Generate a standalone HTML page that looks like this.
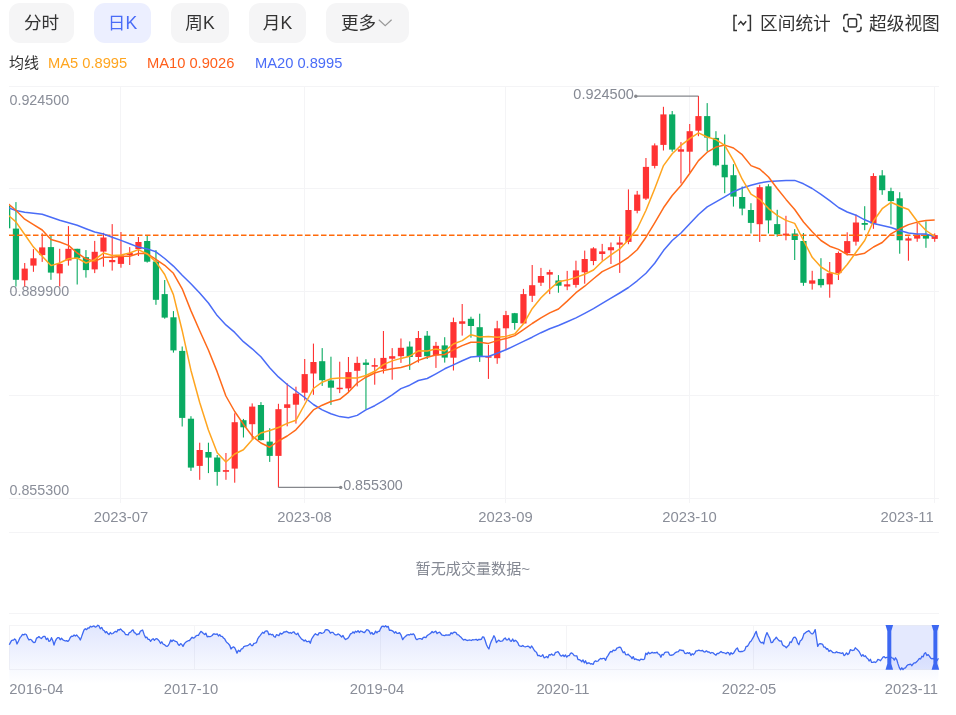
<!DOCTYPE html><html lang="zh"><head><meta charset="utf-8"><title>K线图</title>
<style>html,body{margin:0;padding:0;background:#fff}body{width:956px;height:715px;overflow:hidden;position:relative;font-family:"Liberation Sans","Noto Sans CJK SC",sans-serif}
svg{position:absolute;left:0;top:0;display:block}svg text{font-family:"Liberation Sans","Noto Sans CJK SC",sans-serif}
.tb{position:absolute;top:3px;height:40px;border-radius:11px;background:#f5f5f6;color:#333;font-size:17.6px;line-height:41.4px;text-align:center;box-sizing:border-box}
.tb.on{background:#ecefff;color:#4a6cf7}
.t{position:absolute;white-space:nowrap}
</style></head><body>
<div class="tb" style="left:9px;width:65px">分时</div>
<div class="tb on" style="left:94px;width:57px">日K</div>
<div class="tb" style="left:171px;width:58px">周K</div>
<div class="tb" style="left:249px;width:57px">月K</div>
<div class="tb" style="left:326px;width:83px;text-align:left;padding-left:15px">更多</div>
<div class="t" id="r1" style="left:760px;top:11.7px;font-size:17.7px;line-height:24px;color:#333">区间统计</div>
<div class="t" id="r2" style="left:869px;top:11.7px;font-size:17.7px;line-height:24px;color:#333">超级视图</div>
<div class="t" id="m0" style="left:9px;top:53px;font-size:15px;line-height:20px;color:#333">均线</div>
<div class="t" id="m1" style="left:48px;top:53px;font-size:14.7px;line-height:20px;color:#ffa51f">MA5 0.8995</div>
<div class="t" id="m2" style="left:147px;top:53px;font-size:14.7px;line-height:20px;color:#ff5e1a">MA10 0.9026</div>
<div class="t" id="m3" style="left:255px;top:53px;font-size:14.7px;line-height:20px;color:#4a6cf7">MA20 0.8995</div>
<div class="t" id="nv" style="left:415.6px;top:559px;font-size:15.1px;line-height:20px;color:#858993">暂无成交量数据~</div>
<svg width="956" height="715" viewBox="0 0 956 715">
<defs><clipPath id="cp"><rect x="9" y="80" width="931" height="420"/></clipPath>
<linearGradient id="mg" x1="0" y1="0" x2="0" y2="1"><stop offset="0" stop-color="#4a6cf7" stop-opacity="0.17"/><stop offset="1" stop-color="#4a6cf7" stop-opacity="0.0"/></linearGradient></defs>
<path d="M378.8 19.8 L385.2 25.6 L391.6 19.8" fill="none" stroke="#999" stroke-width="1.2"/>
<g fill="none" stroke="#333" stroke-width="1.5"><path d="M737 15.4 H734 V30.6 H737 M747.4 15.4 H750.4 V30.6 H747.4"/><path d="M738.3 24.6 L740.8 21.6 L743.3 24.8 L746.2 21.2" stroke-width="1.4"/></g>
<g fill="none" stroke="#333" stroke-width="1.5"><path d="M848.2 14.6 H846.4 Q843.8 14.6 843.8 17.2 V19.2 M856.6 14.6 H858.4 Q861 14.6 861 17.2 V19.2 M848.2 31.4 H846.4 Q843.8 31.4 843.8 28.8 V26.8 M856.6 31.4 H858.4 Q861 31.4 861 28.8 V26.8"/><rect x="848.2" y="18.7" width="8.4" height="8.4" rx="1.6"/></g>
<line x1="9" x2="939" y1="86.5" y2="86.5" stroke="#f4f4f6" stroke-width="1"/>
<line x1="9" x2="939" y1="188.5" y2="188.5" stroke="#f4f4f6" stroke-width="1"/>
<line x1="9" x2="939" y1="291.5" y2="291.5" stroke="#f4f4f6" stroke-width="1"/>
<line x1="9" x2="939" y1="395.5" y2="395.5" stroke="#f4f4f6" stroke-width="1"/>
<line x1="9" x2="939" y1="498.5" y2="498.5" stroke="#f4f4f6" stroke-width="1"/>
<line x1="120.5" x2="120.5" y1="86" y2="503" stroke="#f4f4f6" stroke-width="1"/>
<line x1="304.5" x2="304.5" y1="86" y2="503" stroke="#f4f4f6" stroke-width="1"/>
<line x1="505.5" x2="505.5" y1="86" y2="503" stroke="#f4f4f6" stroke-width="1"/>
<line x1="689.5" x2="689.5" y1="86" y2="503" stroke="#f4f4f6" stroke-width="1"/>
<line x1="934.5" x2="934.5" y1="86" y2="503" stroke="#f4f4f6" stroke-width="1"/>
<line x1="9" x2="939" y1="532.5" y2="532.5" stroke="#f4f4f6"/>
<line x1="9" x2="939" y1="613.5" y2="613.5" stroke="#f4f4f6"/>
<text x="9.5" y="100" font-size="14.3" fill="#8a8e99" dominant-baseline="central">0.924500</text>
<text x="9.5" y="291" font-size="14.3" fill="#8a8e99" dominant-baseline="central">0.889900</text>
<text x="9.5" y="490" font-size="14.3" fill="#8a8e99" dominant-baseline="central">0.855300</text>
<text x="121" y="516.5" font-size="14.8" fill="#8a8e99" text-anchor="middle" dominant-baseline="central">2023-07</text>
<text x="304.5" y="516.5" font-size="14.8" fill="#8a8e99" text-anchor="middle" dominant-baseline="central">2023-08</text>
<text x="505.5" y="516.5" font-size="14.8" fill="#8a8e99" text-anchor="middle" dominant-baseline="central">2023-09</text>
<text x="689.5" y="516.5" font-size="14.8" fill="#8a8e99" text-anchor="middle" dominant-baseline="central">2023-10</text>
<text x="933.7" y="516.5" font-size="14.8" fill="#8a8e99" text-anchor="end" dominant-baseline="central">2023-11</text>
<g clip-path="url(#cp)">
<rect x="4.10" y="206.0" width="6.2" height="22.3" fill="#0aab62"/>
<rect x="6.65" y="206.0" width="1.1" height="22.3" fill="#0aab62"/>
<rect x="12.85" y="228.6" width="6.2" height="51.2" fill="#0aab62"/>
<rect x="15.40" y="202.1" width="1.1" height="84.4" fill="#0aab62"/>
<rect x="21.60" y="268.6" width="6.2" height="11.7" fill="#ff3333"/>
<rect x="24.15" y="263.0" width="1.1" height="23.5" fill="#ff3333"/>
<rect x="30.35" y="258.3" width="6.2" height="7.3" fill="#ff3333"/>
<rect x="32.90" y="249.1" width="1.1" height="22.7" fill="#ff3333"/>
<rect x="39.10" y="247.4" width="6.2" height="7.7" fill="#ff3333"/>
<rect x="41.65" y="233.3" width="1.1" height="28.6" fill="#ff3333"/>
<rect x="47.85" y="247.1" width="6.2" height="25.5" fill="#0aab62"/>
<rect x="50.40" y="235.3" width="1.1" height="44.5" fill="#0aab62"/>
<rect x="56.60" y="263.9" width="6.2" height="9.5" fill="#ff3333"/>
<rect x="59.15" y="248.8" width="1.1" height="37.7" fill="#ff3333"/>
<rect x="65.35" y="248.8" width="6.2" height="11.7" fill="#ff3333"/>
<rect x="67.90" y="226.1" width="1.1" height="39.5" fill="#ff3333"/>
<rect x="74.10" y="248.8" width="6.2" height="9.2" fill="#0aab62"/>
<rect x="76.65" y="248.8" width="1.1" height="35.7" fill="#0aab62"/>
<rect x="82.85" y="257.2" width="6.2" height="12.9" fill="#0aab62"/>
<rect x="85.40" y="250.1" width="1.1" height="27.5" fill="#0aab62"/>
<rect x="91.60" y="251.8" width="6.2" height="17.6" fill="#ff3333"/>
<rect x="94.15" y="240.9" width="1.1" height="32.2" fill="#ff3333"/>
<rect x="100.35" y="237.5" width="6.2" height="14.1" fill="#ff3333"/>
<rect x="102.90" y="232.8" width="1.1" height="33.9" fill="#ff3333"/>
<rect x="109.10" y="260.0" width="6.2" height="2.2" fill="#ff3333"/>
<rect x="111.65" y="224.1" width="1.1" height="46.5" fill="#ff3333"/>
<rect x="117.85" y="255.5" width="6.2" height="8.4" fill="#ff3333"/>
<rect x="120.40" y="232.0" width="1.1" height="35.7" fill="#ff3333"/>
<rect x="126.60" y="253.0" width="6.2" height="2.0" fill="#ff3333"/>
<rect x="129.15" y="247.1" width="1.1" height="17.9" fill="#ff3333"/>
<rect x="135.35" y="242.0" width="6.2" height="7.1" fill="#ff3333"/>
<rect x="137.90" y="237.0" width="1.1" height="19.0" fill="#ff3333"/>
<rect x="144.10" y="241.0" width="6.2" height="20.7" fill="#0aab62"/>
<rect x="146.65" y="235.6" width="1.1" height="27.0" fill="#0aab62"/>
<rect x="152.85" y="261.5" width="6.2" height="38.3" fill="#0aab62"/>
<rect x="155.40" y="250.1" width="1.1" height="54.7" fill="#0aab62"/>
<rect x="161.60" y="294.1" width="6.2" height="23.5" fill="#0aab62"/>
<rect x="164.15" y="280.0" width="1.1" height="38.7" fill="#0aab62"/>
<rect x="170.35" y="317.3" width="6.2" height="33.1" fill="#0aab62"/>
<rect x="172.90" y="311.1" width="1.1" height="41.5" fill="#0aab62"/>
<rect x="179.10" y="350.9" width="6.2" height="67.0" fill="#0aab62"/>
<rect x="181.65" y="346.5" width="1.1" height="80.0" fill="#0aab62"/>
<rect x="187.85" y="418.7" width="6.2" height="48.9" fill="#0aab62"/>
<rect x="190.40" y="416.2" width="1.1" height="54.7" fill="#0aab62"/>
<rect x="196.60" y="450.0" width="6.2" height="15.9" fill="#ff3333"/>
<rect x="199.15" y="442.7" width="1.1" height="37.1" fill="#ff3333"/>
<rect x="205.35" y="452.0" width="6.2" height="5.6" fill="#0aab62"/>
<rect x="207.90" y="442.7" width="1.1" height="30.4" fill="#0aab62"/>
<rect x="214.10" y="457.5" width="6.2" height="14.4" fill="#0aab62"/>
<rect x="216.65" y="455.0" width="1.1" height="30.7" fill="#0aab62"/>
<rect x="222.85" y="470.1" width="6.2" height="1.7" fill="#ff3333"/>
<rect x="225.40" y="453.0" width="1.1" height="26.8" fill="#ff3333"/>
<rect x="231.60" y="422.2" width="6.2" height="46.4" fill="#ff3333"/>
<rect x="234.15" y="413.3" width="1.1" height="69.4" fill="#ff3333"/>
<rect x="240.35" y="420.2" width="6.2" height="7.1" fill="#0aab62"/>
<rect x="242.90" y="418.9" width="1.1" height="18.6" fill="#0aab62"/>
<rect x="249.10" y="406.6" width="6.2" height="17.6" fill="#ff3333"/>
<rect x="251.65" y="403.4" width="1.1" height="35.7" fill="#ff3333"/>
<rect x="257.85" y="405.0" width="6.2" height="35.1" fill="#0aab62"/>
<rect x="260.40" y="402.1" width="1.1" height="38.4" fill="#0aab62"/>
<rect x="266.60" y="441.6" width="6.2" height="14.3" fill="#0aab62"/>
<rect x="269.15" y="428.2" width="1.1" height="33.7" fill="#0aab62"/>
<rect x="275.35" y="409.2" width="6.2" height="46.7" fill="#ff3333"/>
<rect x="277.90" y="403.8" width="1.1" height="83.6" fill="#ff3333"/>
<rect x="284.10" y="404.3" width="6.2" height="3.6" fill="#ff3333"/>
<rect x="286.65" y="383.3" width="1.1" height="43.0" fill="#ff3333"/>
<rect x="292.85" y="393.6" width="6.2" height="11.1" fill="#ff3333"/>
<rect x="295.40" y="386.7" width="1.1" height="36.9" fill="#ff3333"/>
<rect x="301.60" y="374.1" width="6.2" height="18.6" fill="#ff3333"/>
<rect x="304.15" y="359.0" width="1.1" height="41.5" fill="#ff3333"/>
<rect x="310.35" y="362.0" width="6.2" height="11.5" fill="#ff3333"/>
<rect x="312.90" y="343.6" width="1.1" height="51.2" fill="#ff3333"/>
<rect x="319.10" y="361.2" width="6.2" height="19.0" fill="#0aab62"/>
<rect x="321.65" y="348.1" width="1.1" height="37.8" fill="#0aab62"/>
<rect x="327.85" y="380.5" width="6.2" height="7.2" fill="#0aab62"/>
<rect x="330.40" y="356.7" width="1.1" height="48.2" fill="#0aab62"/>
<rect x="336.60" y="387.7" width="6.2" height="1.5" fill="#ff3333"/>
<rect x="339.15" y="361.7" width="1.1" height="31.4" fill="#ff3333"/>
<rect x="345.35" y="372.1" width="6.2" height="16.3" fill="#ff3333"/>
<rect x="347.90" y="357.0" width="1.1" height="35.3" fill="#ff3333"/>
<rect x="354.10" y="362.9" width="6.2" height="7.9" fill="#ff3333"/>
<rect x="356.65" y="356.7" width="1.1" height="29.7" fill="#ff3333"/>
<rect x="362.85" y="362.6" width="6.2" height="2.3" fill="#0aab62"/>
<rect x="365.40" y="359.2" width="1.1" height="50.2" fill="#0aab62"/>
<rect x="371.60" y="365.1" width="6.2" height="1.6" fill="#ff3333"/>
<rect x="374.15" y="358.2" width="1.1" height="26.5" fill="#ff3333"/>
<rect x="380.35" y="357.9" width="6.2" height="10.9" fill="#ff3333"/>
<rect x="382.90" y="331.0" width="1.1" height="42.5" fill="#ff3333"/>
<rect x="389.10" y="356.2" width="6.2" height="2.5" fill="#ff3333"/>
<rect x="391.65" y="348.1" width="1.1" height="31.6" fill="#ff3333"/>
<rect x="397.85" y="347.8" width="6.2" height="8.4" fill="#ff3333"/>
<rect x="400.40" y="338.5" width="1.1" height="24.4" fill="#ff3333"/>
<rect x="406.60" y="346.6" width="6.2" height="10.4" fill="#0aab62"/>
<rect x="409.15" y="341.4" width="1.1" height="28.5" fill="#0aab62"/>
<rect x="415.35" y="338.0" width="6.2" height="19.0" fill="#ff3333"/>
<rect x="417.90" y="331.0" width="1.1" height="31.6" fill="#ff3333"/>
<rect x="424.10" y="335.7" width="6.2" height="20.5" fill="#0aab62"/>
<rect x="426.65" y="331.0" width="1.1" height="28.0" fill="#0aab62"/>
<rect x="432.85" y="345.8" width="6.2" height="9.5" fill="#ff3333"/>
<rect x="435.40" y="341.9" width="1.1" height="26.0" fill="#ff3333"/>
<rect x="441.60" y="345.4" width="6.2" height="12.2" fill="#0aab62"/>
<rect x="444.15" y="337.2" width="1.1" height="25.4" fill="#0aab62"/>
<rect x="450.35" y="322.1" width="6.2" height="35.6" fill="#ff3333"/>
<rect x="452.90" y="317.6" width="1.1" height="52.9" fill="#ff3333"/>
<rect x="459.10" y="321.3" width="6.2" height="2.5" fill="#ff3333"/>
<rect x="461.65" y="304.0" width="1.1" height="31.6" fill="#ff3333"/>
<rect x="467.85" y="318.8" width="6.2" height="7.2" fill="#0aab62"/>
<rect x="470.40" y="316.7" width="1.1" height="21.0" fill="#0aab62"/>
<rect x="476.60" y="327.2" width="6.2" height="29.0" fill="#0aab62"/>
<rect x="479.15" y="313.7" width="1.1" height="48.2" fill="#0aab62"/>
<rect x="485.35" y="356.2" width="6.2" height="1.5" fill="#ff3333"/>
<rect x="487.90" y="344.8" width="1.1" height="34.1" fill="#ff3333"/>
<rect x="494.10" y="328.3" width="6.2" height="29.9" fill="#ff3333"/>
<rect x="496.65" y="320.8" width="1.1" height="43.0" fill="#ff3333"/>
<rect x="502.85" y="315.1" width="6.2" height="13.2" fill="#ff3333"/>
<rect x="505.40" y="310.9" width="1.1" height="38.9" fill="#ff3333"/>
<rect x="511.60" y="313.2" width="6.2" height="9.8" fill="#0aab62"/>
<rect x="514.15" y="312.9" width="1.1" height="16.8" fill="#0aab62"/>
<rect x="520.35" y="294.1" width="6.2" height="29.4" fill="#ff3333"/>
<rect x="522.90" y="288.9" width="1.1" height="34.9" fill="#ff3333"/>
<rect x="529.10" y="285.2" width="6.2" height="10.6" fill="#ff3333"/>
<rect x="531.65" y="265.0" width="1.1" height="37.0" fill="#ff3333"/>
<rect x="537.85" y="276.0" width="6.2" height="6.7" fill="#ff3333"/>
<rect x="540.40" y="267.9" width="1.1" height="18.1" fill="#ff3333"/>
<rect x="546.60" y="272.1" width="6.2" height="2.5" fill="#ff3333"/>
<rect x="549.15" y="269.7" width="1.1" height="24.4" fill="#ff3333"/>
<rect x="555.35" y="280.5" width="6.2" height="5.2" fill="#0aab62"/>
<rect x="557.90" y="275.1" width="1.1" height="17.6" fill="#0aab62"/>
<rect x="564.10" y="284.3" width="6.2" height="2.2" fill="#ff3333"/>
<rect x="566.65" y="270.9" width="1.1" height="19.3" fill="#ff3333"/>
<rect x="572.85" y="270.4" width="6.2" height="14.5" fill="#ff3333"/>
<rect x="575.40" y="260.7" width="1.1" height="26.9" fill="#ff3333"/>
<rect x="581.60" y="259.0" width="6.2" height="13.3" fill="#ff3333"/>
<rect x="584.15" y="250.6" width="1.1" height="33.1" fill="#ff3333"/>
<rect x="590.35" y="248.4" width="6.2" height="12.6" fill="#ff3333"/>
<rect x="592.90" y="247.2" width="1.1" height="18.0" fill="#ff3333"/>
<rect x="599.10" y="251.4" width="6.2" height="2.6" fill="#ff3333"/>
<rect x="601.65" y="243.9" width="1.1" height="16.8" fill="#ff3333"/>
<rect x="607.85" y="247.2" width="6.2" height="3.1" fill="#ff3333"/>
<rect x="610.40" y="242.5" width="1.1" height="21.5" fill="#ff3333"/>
<rect x="616.60" y="242.5" width="6.2" height="2.2" fill="#ff3333"/>
<rect x="619.15" y="236.3" width="1.1" height="36.6" fill="#ff3333"/>
<rect x="625.35" y="210.0" width="6.2" height="31.9" fill="#ff3333"/>
<rect x="627.90" y="189.4" width="1.1" height="54.8" fill="#ff3333"/>
<rect x="634.10" y="194.6" width="6.2" height="16.2" fill="#ff3333"/>
<rect x="636.65" y="190.9" width="1.1" height="22.4" fill="#ff3333"/>
<rect x="642.85" y="166.9" width="6.2" height="31.7" fill="#ff3333"/>
<rect x="645.40" y="158.0" width="1.1" height="42.0" fill="#ff3333"/>
<rect x="651.60" y="145.4" width="6.2" height="20.5" fill="#ff3333"/>
<rect x="654.15" y="143.4" width="1.1" height="25.0" fill="#ff3333"/>
<rect x="660.35" y="114.4" width="6.2" height="30.5" fill="#ff3333"/>
<rect x="662.90" y="106.8" width="1.1" height="43.7" fill="#ff3333"/>
<rect x="669.10" y="114.4" width="6.2" height="35.2" fill="#0aab62"/>
<rect x="671.65" y="111.0" width="1.1" height="40.7" fill="#0aab62"/>
<rect x="677.85" y="149.3" width="6.2" height="2.4" fill="#ff3333"/>
<rect x="680.40" y="142.1" width="1.1" height="41.3" fill="#ff3333"/>
<rect x="686.60" y="131.2" width="6.2" height="20.5" fill="#ff3333"/>
<rect x="689.15" y="124.0" width="1.1" height="48.7" fill="#ff3333"/>
<rect x="695.35" y="116.1" width="6.2" height="14.6" fill="#ff3333"/>
<rect x="697.90" y="95.9" width="1.1" height="40.3" fill="#ff3333"/>
<rect x="704.10" y="116.1" width="6.2" height="21.5" fill="#0aab62"/>
<rect x="706.65" y="103.1" width="1.1" height="48.2" fill="#0aab62"/>
<rect x="712.85" y="137.9" width="6.2" height="27.4" fill="#0aab62"/>
<rect x="715.40" y="131.2" width="1.1" height="35.2" fill="#0aab62"/>
<rect x="721.60" y="164.8" width="6.2" height="12.5" fill="#0aab62"/>
<rect x="724.15" y="134.5" width="1.1" height="58.7" fill="#0aab62"/>
<rect x="730.35" y="175.2" width="6.2" height="21.4" fill="#0aab62"/>
<rect x="732.90" y="164.2" width="1.1" height="42.4" fill="#0aab62"/>
<rect x="739.10" y="197.0" width="6.2" height="11.6" fill="#0aab62"/>
<rect x="741.65" y="186.5" width="1.1" height="28.8" fill="#0aab62"/>
<rect x="747.85" y="210.0" width="6.2" height="12.9" fill="#0aab62"/>
<rect x="750.40" y="203.2" width="1.1" height="30.3" fill="#0aab62"/>
<rect x="756.60" y="187.2" width="6.2" height="37.0" fill="#ff3333"/>
<rect x="759.15" y="184.7" width="1.1" height="57.2" fill="#ff3333"/>
<rect x="765.35" y="186.3" width="6.2" height="34.1" fill="#0aab62"/>
<rect x="767.90" y="184.2" width="1.1" height="49.3" fill="#0aab62"/>
<rect x="774.10" y="224.1" width="6.2" height="10.2" fill="#0aab62"/>
<rect x="776.65" y="209.8" width="1.1" height="26.9" fill="#0aab62"/>
<rect x="782.85" y="233.6" width="6.2" height="1.9" fill="#ff3333"/>
<rect x="785.40" y="215.8" width="1.1" height="24.5" fill="#ff3333"/>
<rect x="791.60" y="233.5" width="6.2" height="6.5" fill="#0aab62"/>
<rect x="794.15" y="229.1" width="1.1" height="30.9" fill="#0aab62"/>
<rect x="800.35" y="241.0" width="6.2" height="41.8" fill="#0aab62"/>
<rect x="802.90" y="233.0" width="1.1" height="52.8" fill="#0aab62"/>
<rect x="809.10" y="280.4" width="6.2" height="3.3" fill="#ff3333"/>
<rect x="811.65" y="270.8" width="1.1" height="18.8" fill="#ff3333"/>
<rect x="817.85" y="278.9" width="6.2" height="6.3" fill="#0aab62"/>
<rect x="820.40" y="258.2" width="1.1" height="29.4" fill="#0aab62"/>
<rect x="826.60" y="273.2" width="6.2" height="11.2" fill="#ff3333"/>
<rect x="829.15" y="262.0" width="1.1" height="35.7" fill="#ff3333"/>
<rect x="835.35" y="253.0" width="6.2" height="20.1" fill="#ff3333"/>
<rect x="837.90" y="251.5" width="1.1" height="28.5" fill="#ff3333"/>
<rect x="844.10" y="241.1" width="6.2" height="12.1" fill="#ff3333"/>
<rect x="846.65" y="232.3" width="1.1" height="23.2" fill="#ff3333"/>
<rect x="852.85" y="222.5" width="6.2" height="19.2" fill="#ff3333"/>
<rect x="855.40" y="214.6" width="1.1" height="31.0" fill="#ff3333"/>
<rect x="861.60" y="223.0" width="6.2" height="1.8" fill="#0aab62"/>
<rect x="864.15" y="206.2" width="1.1" height="24.0" fill="#0aab62"/>
<rect x="870.35" y="176.0" width="6.2" height="47.6" fill="#ff3333"/>
<rect x="872.90" y="173.2" width="1.1" height="55.6" fill="#ff3333"/>
<rect x="879.10" y="175.4" width="6.2" height="14.8" fill="#0aab62"/>
<rect x="881.65" y="170.1" width="1.1" height="24.7" fill="#0aab62"/>
<rect x="887.85" y="191.1" width="6.2" height="10.0" fill="#0aab62"/>
<rect x="890.40" y="187.7" width="1.1" height="36.9" fill="#0aab62"/>
<rect x="896.60" y="198.3" width="6.2" height="42.0" fill="#0aab62"/>
<rect x="899.15" y="192.2" width="1.1" height="61.5" fill="#0aab62"/>
<rect x="905.35" y="238.4" width="6.2" height="2.2" fill="#ff3333"/>
<rect x="907.90" y="236.4" width="1.1" height="24.3" fill="#ff3333"/>
<rect x="914.10" y="234.7" width="6.2" height="3.9" fill="#ff3333"/>
<rect x="916.65" y="223.0" width="1.1" height="18.8" fill="#ff3333"/>
<rect x="922.85" y="234.7" width="6.2" height="3.9" fill="#0aab62"/>
<rect x="925.40" y="221.3" width="1.1" height="26.5" fill="#0aab62"/>
<rect x="931.60" y="235.1" width="6.2" height="3.8" fill="#ff3333"/>
<rect x="934.15" y="233.4" width="1.1" height="8.4" fill="#ff3333"/>
<line x1="9" x2="935" y1="235.2" y2="235.2" stroke="#ff6a0a" stroke-width="1.6" stroke-dasharray="5.5 2.5"/>
<polyline points="7.2,207.4 15.9,210.5 24.7,212.3 33.5,213.3 42.2,214.3 51.0,217.3 59.7,220.2 68.5,222.8 77.2,225.3 86.0,228.7 94.7,232.0 103.5,234.0 112.2,237.2 121.0,240.4 129.7,243.8 138.4,247.1 147.2,248.9 155.9,251.8 164.7,258.5 173.4,266.1 182.2,275.3 190.9,283.7 199.7,293.0 208.4,303.0 217.2,315.6 225.9,324.9 234.7,332.4 243.4,341.7 252.2,348.8 260.9,356.8 269.7,367.7 278.4,376.9 287.2,384.5 295.9,391.0 304.7,397.5 313.4,404.5 322.2,409.9 330.9,413.8 339.7,416.6 348.4,417.8 357.2,415.4 365.9,409.9 374.7,405.7 383.4,400.7 392.2,394.8 400.9,388.6 409.7,385.2 418.4,380.5 427.2,378.5 435.9,373.8 444.7,368.8 453.4,364.9 462.2,360.7 470.9,357.0 479.7,356.2 488.4,356.5 497.2,353.2 505.9,349.8 514.7,345.6 523.5,341.4 532.2,337.2 541.0,332.7 549.7,328.8 558.5,325.5 567.2,321.8 576.0,317.9 584.7,313.4 593.5,308.7 602.2,303.4 611.0,298.2 619.7,293.0 628.5,287.5 637.2,280.8 646.0,273.3 654.7,263.2 663.5,250.6 672.2,240.5 681.0,233.0 689.7,223.7 698.5,214.5 707.2,206.9 716.0,201.9 724.7,196.9 733.5,191.7 742.2,188.0 751.0,185.2 759.7,183.0 768.5,181.4 777.2,180.9 786.0,180.4 794.7,180.4 803.5,183.8 812.2,188.5 821.0,194.4 829.7,200.7 838.5,207.5 847.2,212.0 856.0,215.2 864.7,219.8 873.5,223.5 882.2,225.5 891.0,227.5 899.7,230.5 908.5,233.0 917.2,233.9 926.0,233.9 934.7,236.9" fill="none" stroke="#4a6cf7" stroke-width="1.5" stroke-linejoin="round"/>
<polyline points="7.2,203.0 15.9,210.3 24.7,219.2 33.5,224.6 42.2,230.0 51.0,239.5 59.7,242.0 68.5,245.4 77.2,253.0 86.0,258.8 94.7,261.4 103.5,257.2 112.2,257.2 121.0,256.3 129.7,256.3 138.4,253.5 147.2,253.6 155.9,259.4 164.7,265.3 173.4,273.3 182.2,288.8 190.9,310.6 199.7,330.7 208.4,350.0 217.2,371.9 225.9,396.0 234.7,411.5 243.4,424.2 252.2,436.0 260.9,443.0 269.7,447.2 278.4,441.0 287.2,436.0 295.9,429.8 304.7,420.1 313.4,409.9 322.2,405.2 330.9,401.5 339.7,399.3 348.4,392.3 357.2,383.0 365.9,377.2 374.7,373.0 383.4,370.4 392.2,368.8 400.9,367.4 409.7,365.1 418.4,360.4 427.2,357.3 435.9,355.0 444.7,354.5 453.4,349.8 462.2,345.6 470.9,342.3 479.7,342.3 488.4,343.4 497.2,340.6 505.9,338.6 514.7,335.6 523.5,329.7 532.2,323.5 541.0,317.9 549.7,312.9 558.5,309.0 567.2,301.1 576.0,292.7 584.7,286.2 593.5,278.8 602.2,271.6 611.0,267.4 619.7,263.2 628.5,257.3 637.2,249.8 646.0,237.2 654.7,222.9 663.5,207.8 672.2,195.5 681.0,185.5 689.7,173.5 698.5,160.6 707.2,152.2 716.0,147.1 724.7,145.1 733.5,148.0 742.2,154.7 751.0,165.6 759.7,169.0 768.5,177.0 777.2,188.5 786.0,199.4 794.7,209.5 803.5,222.0 812.2,231.8 821.0,240.5 829.7,246.2 838.5,249.4 847.2,254.5 856.0,254.9 864.7,253.2 873.5,247.0 882.2,242.5 891.0,233.9 899.7,228.8 908.5,224.6 917.2,222.1 926.0,220.4 934.7,219.9" fill="none" stroke="#ff6a1a" stroke-width="1.5" stroke-linejoin="round"/>
<polyline points="7.2,214.3 15.9,221.9 24.7,234.5 33.5,247.1 42.2,256.3 51.0,265.6 59.7,263.0 68.5,258.8 77.2,258.0 86.0,263.0 94.7,259.7 103.5,253.0 112.2,255.5 121.0,255.1 129.7,253.0 138.4,249.6 147.2,254.0 155.9,261.9 164.7,274.5 173.4,294.6 182.2,330.7 190.9,370.2 199.7,402.5 208.4,430.0 217.2,452.7 225.9,462.0 234.7,454.0 243.4,449.8 252.2,439.7 260.9,433.0 269.7,430.5 278.4,427.5 287.2,423.4 295.9,420.3 304.7,404.5 313.4,388.5 322.2,382.2 330.9,378.8 339.7,378.0 348.4,378.0 357.2,378.0 365.9,375.5 374.7,371.3 383.4,364.6 392.2,360.9 400.9,358.4 409.7,356.2 418.4,350.8 427.2,351.1 435.9,349.0 444.7,351.0 453.4,344.0 462.2,340.6 470.9,334.7 479.7,336.9 488.4,336.4 497.2,337.2 505.9,336.4 514.7,333.9 523.5,323.8 532.2,308.7 541.0,297.8 549.7,289.4 558.5,281.8 567.2,280.1 576.0,277.4 584.7,274.2 593.5,270.0 602.2,261.5 611.0,254.8 619.7,248.9 628.5,239.7 637.2,228.8 646.0,210.3 654.7,188.8 663.5,165.6 672.2,153.8 681.0,145.4 689.7,138.7 698.5,132.9 707.2,137.0 716.0,139.6 724.7,145.4 733.5,160.6 742.2,179.2 751.0,194.2 759.7,199.3 768.5,208.6 777.2,215.3 786.0,220.4 794.7,223.4 803.5,240.5 812.2,257.3 821.0,267.0 829.7,272.3 838.5,274.5 847.2,264.5 856.0,252.3 864.7,240.5 873.5,221.0 882.2,208.7 891.0,202.3 899.7,206.2 908.5,209.5 917.2,221.3 926.0,230.5 934.7,236.4" fill="none" stroke="#ffa51f" stroke-width="1.5" stroke-linejoin="round"/>
</g>
<g stroke="#85878c" fill="none" stroke-width="1.2"><path d="M636 96.2 H698.3"/><path d="M278.3 487.4 H340.5"/></g>
<circle cx="635.8" cy="96.2" r="1.7" fill="#85878c"/><circle cx="340.7" cy="487.4" r="1.7" fill="#85878c"/>
<text x="633.8" y="94.2" font-size="14.5" fill="#858993" text-anchor="end" dominant-baseline="central">0.924500</text>
<text x="343.2" y="485.1" font-size="14.3" fill="#858993" dominant-baseline="central">0.855300</text>
<rect x="9.5" y="625.5" width="929" height="44" fill="none" stroke="#f4f4f6"/>
<line x1="194.5" x2="194.5" y1="626" y2="669" stroke="#f4f4f6"/>
<line x1="380.5" x2="380.5" y1="626" y2="669" stroke="#f4f4f6"/>
<line x1="566.5" x2="566.5" y1="626" y2="669" stroke="#f4f4f6"/>
<line x1="753.5" x2="753.5" y1="626" y2="669" stroke="#f4f4f6"/>
<polygon points="9.3,684 9.3,644.7 10.4,642.6 11.5,640.6 12.6,640.2 13.6,640.1 14.6,639.0 15.8,640.1 17.0,644.0 18.5,641.0 20.0,637.7 21.2,636.3 22.5,634.4 23.8,634.9 25.0,634.0 26.3,634.5 27.7,637.8 29.0,640.0 30.2,639.3 31.5,640.0 32.8,641.8 34.0,642.7 35.2,642.1 36.5,638.2 37.7,637.7 38.9,636.6 40.1,637.7 41.4,638.5 42.6,637.1 43.8,636.3 45.0,636.4 46.3,639.6 47.7,638.3 49.0,641.4 50.2,640.7 51.5,637.7 52.8,640.7 54.0,645.0 55.2,641.4 56.5,638.9 57.7,637.7 59.0,637.6 60.2,639.7 61.5,638.2 62.8,639.7 64.0,640.4 65.3,641.0 66.5,640.6 67.8,641.4 69.0,640.3 70.3,637.5 71.5,636.2 72.8,636.4 74.1,635.0 75.3,636.0 76.6,635.0 77.8,636.4 79.1,637.7 80.3,640.0 81.5,636.9 82.8,633.2 84.0,630.0 85.3,628.7 86.6,629.6 87.9,628.0 89.1,628.2 90.3,626.3 91.6,627.0 92.8,626.4 94.0,625.9 95.2,627.1 96.5,626.6 97.8,625.2 99.0,625.9 100.3,628.8 101.7,627.4 103.0,630.0 104.2,630.7 105.4,632.7 106.6,631.6 107.8,633.6 109.0,634.6 110.3,632.5 111.6,633.9 112.9,633.5 114.2,632.3 115.5,631.4 116.8,632.0 118.0,629.6 119.2,630.1 120.5,628.9 121.8,630.3 123.0,631.4 124.3,632.2 125.5,634.5 126.8,634.6 128.1,635.0 129.3,632.5 130.6,632.1 131.8,630.6 133.0,629.9 134.3,632.6 135.5,633.1 136.8,634.8 138.0,633.9 139.2,634.0 140.3,631.3 141.4,630.6 142.6,630.0 144.1,634.4 145.6,637.7 146.8,637.1 148.1,639.4 149.3,639.4 150.6,641.4 151.9,639.5 153.1,638.7 154.4,640.4 155.7,638.9 156.9,638.6 158.1,639.8 159.3,641.1 160.6,643.5 161.8,641.8 163.0,644.0 164.3,644.6 165.7,645.8 167.0,646.4 168.2,645.5 169.5,643.2 170.7,640.0 171.9,641.5 173.2,640.0 174.4,640.8 175.7,641.4 176.9,641.8 178.1,644.3 179.3,645.4 180.6,643.6 181.8,644.5 183.0,646.4 184.3,643.9 185.7,642.2 187.0,641.4 188.3,640.7 189.5,640.5 190.8,638.8 192.1,637.3 193.3,638.1 194.6,637.7 195.9,636.0 197.1,635.4 198.4,635.4 199.6,633.3 200.9,631.4 202.2,632.3 203.4,633.4 204.7,634.5 205.9,633.3 207.2,636.8 208.4,636.4 209.7,636.7 210.9,636.3 212.2,635.5 213.4,633.9 214.7,634.0 215.9,634.4 217.2,633.9 218.5,636.0 219.7,634.6 221.0,636.4 222.2,636.3 223.5,638.0 224.8,639.1 226.0,641.4 227.2,642.8 228.5,643.8 229.8,645.5 231.0,649.0 232.2,647.5 233.5,646.9 234.7,647.7 235.8,650.0 237.0,653.2 238.4,650.3 239.9,651.6 241.3,649.0 242.6,648.7 243.8,646.6 245.1,646.2 246.3,645.9 247.6,645.7 248.9,644.8 250.1,643.6 251.4,645.5 252.6,645.6 253.9,643.4 255.1,643.1 256.4,642.7 257.6,639.2 258.9,637.0 260.1,635.6 261.4,633.9 262.6,632.3 263.9,633.3 265.1,631.4 266.4,630.9 267.6,631.1 268.9,634.7 270.2,633.9 271.4,634.8 272.7,634.4 273.9,636.5 275.2,637.2 276.4,634.7 277.7,635.2 278.9,635.7 280.2,633.1 281.4,634.1 282.7,633.4 283.9,631.8 285.2,632.0 286.4,631.2 287.7,632.1 289.0,633.1 290.2,632.5 291.5,633.4 292.8,632.1 294.0,631.8 295.3,633.8 296.5,634.5 297.8,633.1 299.1,635.9 300.3,637.4 301.6,639.1 302.8,639.7 304.1,641.1 305.3,640.0 306.6,641.5 307.8,641.6 309.1,641.1 310.3,643.2 311.6,639.0 312.8,637.1 314.1,635.1 315.4,633.8 316.6,634.7 317.9,635.1 319.1,632.9 320.4,632.6 321.7,633.4 322.9,633.0 324.2,632.3 325.4,629.8 326.7,629.6 327.9,629.9 329.2,631.1 330.4,633.1 331.7,632.3 332.9,632.4 334.2,633.9 335.5,634.9 336.7,634.9 338.0,633.9 339.2,634.5 340.5,635.8 341.7,637.0 343.0,635.4 344.2,638.0 345.5,639.5 346.7,638.9 348.0,638.1 349.2,636.4 350.5,633.9 351.8,633.3 353.0,631.8 354.2,633.2 355.5,631.2 356.8,632.1 358.0,630.6 359.3,632.5 360.6,631.0 361.8,631.4 363.1,632.1 364.3,632.7 365.6,631.2 366.8,629.6 368.1,630.0 369.3,631.3 370.6,633.9 371.9,632.4 373.1,634.4 374.4,633.6 375.6,631.1 376.9,632.9 378.1,631.4 379.4,631.3 380.6,628.6 381.9,626.4 383.1,626.1 384.4,626.9 385.6,625.7 386.9,627.1 388.2,626.4 389.4,630.3 390.7,630.2 391.9,630.6 393.2,631.4 394.5,633.0 395.7,631.7 397.0,633.3 398.2,633.4 399.5,632.6 401.1,635.2 402.7,639.7 404.1,637.6 405.5,636.5 406.9,635.0 408.3,634.6 409.5,635.0 410.8,634.0 412.0,634.6 413.3,633.8 414.5,635.1 415.8,638.7 417.0,639.7 418.3,638.8 419.5,638.7 420.8,638.7 422.1,639.3 423.3,637.4 424.6,637.2 425.9,637.7 427.1,635.6 428.4,634.8 429.6,634.0 430.9,633.1 432.1,631.5 433.4,632.7 434.6,631.8 435.9,631.2 437.1,633.6 438.4,632.6 439.7,632.2 440.9,633.8 442.2,635.2 443.4,635.3 444.7,635.7 446.0,634.8 447.2,635.1 448.5,634.8 449.7,635.2 451.0,632.7 452.2,633.8 453.5,632.5 454.7,632.2 456.0,632.6 457.2,634.6 458.5,634.9 459.8,636.2 461.0,637.2 462.3,638.8 463.6,640.0 465.0,639.3 466.3,640.2 467.5,640.5 468.8,640.1 470.0,640.0 471.3,640.5 472.5,639.7 473.8,639.9 475.0,639.7 476.3,639.3 477.5,640.4 478.8,639.3 480.1,639.5 481.4,639.3 482.6,636.8 483.9,637.2 485.1,640.3 486.4,644.5 487.6,647.1 488.9,649.0 490.1,644.5 491.4,641.1 492.6,638.8 493.9,635.7 495.1,637.8 496.4,642.7 497.6,641.2 498.9,640.1 500.1,641.3 501.4,641.1 502.6,640.8 503.9,638.9 505.2,637.9 506.4,639.9 507.7,639.8 508.9,638.3 510.2,640.8 511.4,641.3 512.7,639.0 513.9,641.5 515.2,640.2 516.5,641.1 517.7,642.6 519.0,645.5 520.2,646.2 521.5,646.4 522.8,645.5 524.0,646.5 525.3,646.9 526.5,646.5 527.8,646.1 529.0,646.7 530.3,648.1 531.5,646.0 532.8,647.7 534.0,649.9 535.3,651.5 536.5,652.2 537.8,655.7 539.1,655.3 540.3,656.3 541.6,656.1 542.8,654.8 544.1,657.8 545.3,657.3 546.6,656.5 547.9,657.7 549.1,654.7 550.4,655.0 551.6,654.0 552.9,655.2 554.2,655.1 555.4,652.5 556.7,652.2 558.0,651.7 559.2,653.4 560.5,655.7 561.7,656.1 563.0,655.0 564.2,656.5 565.5,655.0 566.7,657.1 568.0,655.7 569.2,655.7 570.5,653.4 571.7,652.9 573.0,654.0 574.2,655.7 575.5,655.9 576.8,655.8 578.0,659.6 579.2,659.7 580.5,660.3 581.8,661.7 583.0,659.9 584.3,662.8 585.5,660.8 586.8,663.8 588.1,662.9 589.3,663.0 590.6,664.0 591.8,663.7 593.1,664.4 594.3,661.8 595.6,660.8 596.8,661.5 598.1,661.0 599.3,659.4 600.6,658.4 601.9,659.0 603.1,658.3 604.4,658.4 605.6,660.3 606.9,657.1 608.1,655.3 609.4,653.1 610.6,651.5 611.9,652.0 613.2,650.2 614.4,650.5 615.7,650.2 616.9,648.2 618.2,647.7 619.4,647.2 620.7,647.5 621.9,650.1 623.2,652.7 624.5,651.8 625.7,654.7 627.0,654.8 628.2,654.2 629.5,655.8 630.7,656.5 632.0,658.6 633.2,656.6 634.5,659.5 635.7,658.9 637.0,659.8 638.2,659.7 639.5,660.6 640.8,659.1 642.0,659.3 643.2,659.7 644.5,659.0 645.8,653.2 647.1,654.5 648.3,652.3 649.6,653.7 650.8,653.1 652.1,652.2 653.3,653.0 654.6,652.6 655.8,652.8 657.1,652.2 658.3,654.0 659.6,654.4 660.9,657.2 662.1,654.3 663.4,655.0 664.6,652.7 665.9,652.2 667.1,652.2 668.4,652.2 669.6,654.9 670.9,655.3 672.1,655.0 673.4,654.7 674.6,653.3 675.9,652.4 677.1,651.8 678.4,651.6 679.6,649.9 680.9,650.2 682.2,650.5 683.4,650.4 684.7,653.2 685.9,653.7 687.2,652.7 688.5,653.3 689.7,652.7 691.0,655.4 692.2,653.7 693.5,654.7 694.8,653.1 696.0,650.9 697.2,650.9 698.5,650.2 699.8,650.5 701.1,650.9 702.4,650.3 703.7,651.7 705.0,652.0 706.4,650.8 707.8,652.0 709.1,651.9 710.5,653.3 711.9,652.5 713.2,652.9 714.6,654.2 716.0,655.2 717.2,653.4 718.5,653.6 719.8,652.5 721.0,651.5 722.3,652.6 723.5,652.6 724.8,653.0 726.0,653.8 727.3,652.5 728.5,652.6 729.8,655.0 731.0,652.6 732.3,654.0 733.6,653.1 734.8,651.1 736.1,649.0 737.4,648.0 738.6,651.1 739.9,651.8 741.1,651.4 742.4,651.5 743.6,651.0 744.9,649.9 746.1,646.5 747.4,646.4 748.7,644.3 749.9,642.1 751.2,641.0 752.4,638.8 753.7,636.7 754.9,633.8 756.2,631.4 757.4,636.0 758.7,638.7 759.9,641.4 761.2,642.9 762.4,642.2 763.7,643.9 764.8,638.6 765.9,635.2 767.0,632.6 768.4,635.5 769.8,638.1 771.2,642.7 772.5,642.4 773.8,640.1 775.0,639.0 776.3,637.2 777.5,638.9 778.8,640.4 780.0,641.1 781.3,640.9 782.5,644.7 783.8,645.9 785.0,646.4 786.3,647.7 787.6,646.3 788.8,645.2 790.1,641.8 791.3,642.5 792.6,639.4 793.8,637.3 795.1,637.2 796.4,638.9 797.6,642.9 798.9,644.7 800.1,641.1 801.4,640.1 802.6,638.1 803.9,633.9 805.1,633.1 806.4,631.9 807.6,631.4 808.9,630.6 810.2,632.3 811.4,633.7 812.7,633.9 814.0,632.1 815.2,629.6 816.5,638.5 817.7,646.4 818.9,644.2 820.2,643.6 821.4,643.9 822.7,644.4 823.9,647.2 825.2,647.1 826.5,649.2 827.7,648.7 829.0,651.5 830.2,650.2 831.5,651.1 832.8,652.5 834.0,652.7 835.2,652.8 836.5,651.7 837.8,652.6 839.0,652.7 840.3,653.0 841.5,653.4 842.8,652.7 844.0,655.6 845.3,654.7 846.5,652.9 847.8,654.5 849.0,653.5 850.3,649.7 851.5,650.2 852.8,650.5 854.0,650.1 855.3,647.7 856.6,649.1 857.8,650.1 859.1,651.5 860.4,654.0 861.6,656.2 862.9,654.6 864.1,656.5 865.4,655.8 866.6,657.7 867.9,658.7 869.1,661.0 870.4,659.3 871.6,662.4 872.9,662.3 874.2,661.8 875.4,662.5 876.7,661.5 877.9,659.4 879.2,659.8 880.5,660.7 881.7,659.0 883.0,657.2 884.2,656.7 885.5,657.9 886.7,657.4 888.0,657.2 889.3,656.9 890.5,656.8 891.8,657.8 893.0,658.1 894.3,660.1 895.5,657.8 896.8,659.8 898.0,663.9 899.3,667.6 900.5,669.8 901.8,667.8 903.0,669.6 904.3,668.1 905.5,667.9 906.8,665.8 908.1,664.7 909.3,664.5 910.6,664.2 911.8,665.7 913.1,663.9 914.3,662.8 915.6,662.8 916.9,661.6 918.1,660.2 919.4,658.5 920.6,659.0 921.9,656.2 923.1,656.9 924.4,653.6 925.6,652.7 926.9,655.5 928.2,654.6 929.4,656.1 930.7,658.2 932.0,658.8 933.2,658.3 934.5,659.4 935.7,660.3 937.0,660.7 938.4,658.2 938.4,684" fill="url(#mg)"/>
<polyline points="9.3,644.7 10.4,642.6 11.5,640.6 12.6,640.2 13.6,640.1 14.6,639.0 15.8,640.1 17.0,644.0 18.5,641.0 20.0,637.7 21.2,636.3 22.5,634.4 23.8,634.9 25.0,634.0 26.3,634.5 27.7,637.8 29.0,640.0 30.2,639.3 31.5,640.0 32.8,641.8 34.0,642.7 35.2,642.1 36.5,638.2 37.7,637.7 38.9,636.6 40.1,637.7 41.4,638.5 42.6,637.1 43.8,636.3 45.0,636.4 46.3,639.6 47.7,638.3 49.0,641.4 50.2,640.7 51.5,637.7 52.8,640.7 54.0,645.0 55.2,641.4 56.5,638.9 57.7,637.7 59.0,637.6 60.2,639.7 61.5,638.2 62.8,639.7 64.0,640.4 65.3,641.0 66.5,640.6 67.8,641.4 69.0,640.3 70.3,637.5 71.5,636.2 72.8,636.4 74.1,635.0 75.3,636.0 76.6,635.0 77.8,636.4 79.1,637.7 80.3,640.0 81.5,636.9 82.8,633.2 84.0,630.0 85.3,628.7 86.6,629.6 87.9,628.0 89.1,628.2 90.3,626.3 91.6,627.0 92.8,626.4 94.0,625.9 95.2,627.1 96.5,626.6 97.8,625.2 99.0,625.9 100.3,628.8 101.7,627.4 103.0,630.0 104.2,630.7 105.4,632.7 106.6,631.6 107.8,633.6 109.0,634.6 110.3,632.5 111.6,633.9 112.9,633.5 114.2,632.3 115.5,631.4 116.8,632.0 118.0,629.6 119.2,630.1 120.5,628.9 121.8,630.3 123.0,631.4 124.3,632.2 125.5,634.5 126.8,634.6 128.1,635.0 129.3,632.5 130.6,632.1 131.8,630.6 133.0,629.9 134.3,632.6 135.5,633.1 136.8,634.8 138.0,633.9 139.2,634.0 140.3,631.3 141.4,630.6 142.6,630.0 144.1,634.4 145.6,637.7 146.8,637.1 148.1,639.4 149.3,639.4 150.6,641.4 151.9,639.5 153.1,638.7 154.4,640.4 155.7,638.9 156.9,638.6 158.1,639.8 159.3,641.1 160.6,643.5 161.8,641.8 163.0,644.0 164.3,644.6 165.7,645.8 167.0,646.4 168.2,645.5 169.5,643.2 170.7,640.0 171.9,641.5 173.2,640.0 174.4,640.8 175.7,641.4 176.9,641.8 178.1,644.3 179.3,645.4 180.6,643.6 181.8,644.5 183.0,646.4 184.3,643.9 185.7,642.2 187.0,641.4 188.3,640.7 189.5,640.5 190.8,638.8 192.1,637.3 193.3,638.1 194.6,637.7 195.9,636.0 197.1,635.4 198.4,635.4 199.6,633.3 200.9,631.4 202.2,632.3 203.4,633.4 204.7,634.5 205.9,633.3 207.2,636.8 208.4,636.4 209.7,636.7 210.9,636.3 212.2,635.5 213.4,633.9 214.7,634.0 215.9,634.4 217.2,633.9 218.5,636.0 219.7,634.6 221.0,636.4 222.2,636.3 223.5,638.0 224.8,639.1 226.0,641.4 227.2,642.8 228.5,643.8 229.8,645.5 231.0,649.0 232.2,647.5 233.5,646.9 234.7,647.7 235.8,650.0 237.0,653.2 238.4,650.3 239.9,651.6 241.3,649.0 242.6,648.7 243.8,646.6 245.1,646.2 246.3,645.9 247.6,645.7 248.9,644.8 250.1,643.6 251.4,645.5 252.6,645.6 253.9,643.4 255.1,643.1 256.4,642.7 257.6,639.2 258.9,637.0 260.1,635.6 261.4,633.9 262.6,632.3 263.9,633.3 265.1,631.4 266.4,630.9 267.6,631.1 268.9,634.7 270.2,633.9 271.4,634.8 272.7,634.4 273.9,636.5 275.2,637.2 276.4,634.7 277.7,635.2 278.9,635.7 280.2,633.1 281.4,634.1 282.7,633.4 283.9,631.8 285.2,632.0 286.4,631.2 287.7,632.1 289.0,633.1 290.2,632.5 291.5,633.4 292.8,632.1 294.0,631.8 295.3,633.8 296.5,634.5 297.8,633.1 299.1,635.9 300.3,637.4 301.6,639.1 302.8,639.7 304.1,641.1 305.3,640.0 306.6,641.5 307.8,641.6 309.1,641.1 310.3,643.2 311.6,639.0 312.8,637.1 314.1,635.1 315.4,633.8 316.6,634.7 317.9,635.1 319.1,632.9 320.4,632.6 321.7,633.4 322.9,633.0 324.2,632.3 325.4,629.8 326.7,629.6 327.9,629.9 329.2,631.1 330.4,633.1 331.7,632.3 332.9,632.4 334.2,633.9 335.5,634.9 336.7,634.9 338.0,633.9 339.2,634.5 340.5,635.8 341.7,637.0 343.0,635.4 344.2,638.0 345.5,639.5 346.7,638.9 348.0,638.1 349.2,636.4 350.5,633.9 351.8,633.3 353.0,631.8 354.2,633.2 355.5,631.2 356.8,632.1 358.0,630.6 359.3,632.5 360.6,631.0 361.8,631.4 363.1,632.1 364.3,632.7 365.6,631.2 366.8,629.6 368.1,630.0 369.3,631.3 370.6,633.9 371.9,632.4 373.1,634.4 374.4,633.6 375.6,631.1 376.9,632.9 378.1,631.4 379.4,631.3 380.6,628.6 381.9,626.4 383.1,626.1 384.4,626.9 385.6,625.7 386.9,627.1 388.2,626.4 389.4,630.3 390.7,630.2 391.9,630.6 393.2,631.4 394.5,633.0 395.7,631.7 397.0,633.3 398.2,633.4 399.5,632.6 401.1,635.2 402.7,639.7 404.1,637.6 405.5,636.5 406.9,635.0 408.3,634.6 409.5,635.0 410.8,634.0 412.0,634.6 413.3,633.8 414.5,635.1 415.8,638.7 417.0,639.7 418.3,638.8 419.5,638.7 420.8,638.7 422.1,639.3 423.3,637.4 424.6,637.2 425.9,637.7 427.1,635.6 428.4,634.8 429.6,634.0 430.9,633.1 432.1,631.5 433.4,632.7 434.6,631.8 435.9,631.2 437.1,633.6 438.4,632.6 439.7,632.2 440.9,633.8 442.2,635.2 443.4,635.3 444.7,635.7 446.0,634.8 447.2,635.1 448.5,634.8 449.7,635.2 451.0,632.7 452.2,633.8 453.5,632.5 454.7,632.2 456.0,632.6 457.2,634.6 458.5,634.9 459.8,636.2 461.0,637.2 462.3,638.8 463.6,640.0 465.0,639.3 466.3,640.2 467.5,640.5 468.8,640.1 470.0,640.0 471.3,640.5 472.5,639.7 473.8,639.9 475.0,639.7 476.3,639.3 477.5,640.4 478.8,639.3 480.1,639.5 481.4,639.3 482.6,636.8 483.9,637.2 485.1,640.3 486.4,644.5 487.6,647.1 488.9,649.0 490.1,644.5 491.4,641.1 492.6,638.8 493.9,635.7 495.1,637.8 496.4,642.7 497.6,641.2 498.9,640.1 500.1,641.3 501.4,641.1 502.6,640.8 503.9,638.9 505.2,637.9 506.4,639.9 507.7,639.8 508.9,638.3 510.2,640.8 511.4,641.3 512.7,639.0 513.9,641.5 515.2,640.2 516.5,641.1 517.7,642.6 519.0,645.5 520.2,646.2 521.5,646.4 522.8,645.5 524.0,646.5 525.3,646.9 526.5,646.5 527.8,646.1 529.0,646.7 530.3,648.1 531.5,646.0 532.8,647.7 534.0,649.9 535.3,651.5 536.5,652.2 537.8,655.7 539.1,655.3 540.3,656.3 541.6,656.1 542.8,654.8 544.1,657.8 545.3,657.3 546.6,656.5 547.9,657.7 549.1,654.7 550.4,655.0 551.6,654.0 552.9,655.2 554.2,655.1 555.4,652.5 556.7,652.2 558.0,651.7 559.2,653.4 560.5,655.7 561.7,656.1 563.0,655.0 564.2,656.5 565.5,655.0 566.7,657.1 568.0,655.7 569.2,655.7 570.5,653.4 571.7,652.9 573.0,654.0 574.2,655.7 575.5,655.9 576.8,655.8 578.0,659.6 579.2,659.7 580.5,660.3 581.8,661.7 583.0,659.9 584.3,662.8 585.5,660.8 586.8,663.8 588.1,662.9 589.3,663.0 590.6,664.0 591.8,663.7 593.1,664.4 594.3,661.8 595.6,660.8 596.8,661.5 598.1,661.0 599.3,659.4 600.6,658.4 601.9,659.0 603.1,658.3 604.4,658.4 605.6,660.3 606.9,657.1 608.1,655.3 609.4,653.1 610.6,651.5 611.9,652.0 613.2,650.2 614.4,650.5 615.7,650.2 616.9,648.2 618.2,647.7 619.4,647.2 620.7,647.5 621.9,650.1 623.2,652.7 624.5,651.8 625.7,654.7 627.0,654.8 628.2,654.2 629.5,655.8 630.7,656.5 632.0,658.6 633.2,656.6 634.5,659.5 635.7,658.9 637.0,659.8 638.2,659.7 639.5,660.6 640.8,659.1 642.0,659.3 643.2,659.7 644.5,659.0 645.8,653.2 647.1,654.5 648.3,652.3 649.6,653.7 650.8,653.1 652.1,652.2 653.3,653.0 654.6,652.6 655.8,652.8 657.1,652.2 658.3,654.0 659.6,654.4 660.9,657.2 662.1,654.3 663.4,655.0 664.6,652.7 665.9,652.2 667.1,652.2 668.4,652.2 669.6,654.9 670.9,655.3 672.1,655.0 673.4,654.7 674.6,653.3 675.9,652.4 677.1,651.8 678.4,651.6 679.6,649.9 680.9,650.2 682.2,650.5 683.4,650.4 684.7,653.2 685.9,653.7 687.2,652.7 688.5,653.3 689.7,652.7 691.0,655.4 692.2,653.7 693.5,654.7 694.8,653.1 696.0,650.9 697.2,650.9 698.5,650.2 699.8,650.5 701.1,650.9 702.4,650.3 703.7,651.7 705.0,652.0 706.4,650.8 707.8,652.0 709.1,651.9 710.5,653.3 711.9,652.5 713.2,652.9 714.6,654.2 716.0,655.2 717.2,653.4 718.5,653.6 719.8,652.5 721.0,651.5 722.3,652.6 723.5,652.6 724.8,653.0 726.0,653.8 727.3,652.5 728.5,652.6 729.8,655.0 731.0,652.6 732.3,654.0 733.6,653.1 734.8,651.1 736.1,649.0 737.4,648.0 738.6,651.1 739.9,651.8 741.1,651.4 742.4,651.5 743.6,651.0 744.9,649.9 746.1,646.5 747.4,646.4 748.7,644.3 749.9,642.1 751.2,641.0 752.4,638.8 753.7,636.7 754.9,633.8 756.2,631.4 757.4,636.0 758.7,638.7 759.9,641.4 761.2,642.9 762.4,642.2 763.7,643.9 764.8,638.6 765.9,635.2 767.0,632.6 768.4,635.5 769.8,638.1 771.2,642.7 772.5,642.4 773.8,640.1 775.0,639.0 776.3,637.2 777.5,638.9 778.8,640.4 780.0,641.1 781.3,640.9 782.5,644.7 783.8,645.9 785.0,646.4 786.3,647.7 787.6,646.3 788.8,645.2 790.1,641.8 791.3,642.5 792.6,639.4 793.8,637.3 795.1,637.2 796.4,638.9 797.6,642.9 798.9,644.7 800.1,641.1 801.4,640.1 802.6,638.1 803.9,633.9 805.1,633.1 806.4,631.9 807.6,631.4 808.9,630.6 810.2,632.3 811.4,633.7 812.7,633.9 814.0,632.1 815.2,629.6 816.5,638.5 817.7,646.4 818.9,644.2 820.2,643.6 821.4,643.9 822.7,644.4 823.9,647.2 825.2,647.1 826.5,649.2 827.7,648.7 829.0,651.5 830.2,650.2 831.5,651.1 832.8,652.5 834.0,652.7 835.2,652.8 836.5,651.7 837.8,652.6 839.0,652.7 840.3,653.0 841.5,653.4 842.8,652.7 844.0,655.6 845.3,654.7 846.5,652.9 847.8,654.5 849.0,653.5 850.3,649.7 851.5,650.2 852.8,650.5 854.0,650.1 855.3,647.7 856.6,649.1 857.8,650.1 859.1,651.5 860.4,654.0 861.6,656.2 862.9,654.6 864.1,656.5 865.4,655.8 866.6,657.7 867.9,658.7 869.1,661.0 870.4,659.3 871.6,662.4 872.9,662.3 874.2,661.8 875.4,662.5 876.7,661.5 877.9,659.4 879.2,659.8 880.5,660.7 881.7,659.0 883.0,657.2 884.2,656.7 885.5,657.9 886.7,657.4 888.0,657.2 889.3,656.9 890.5,656.8 891.8,657.8 893.0,658.1 894.3,660.1 895.5,657.8 896.8,659.8 898.0,663.9 899.3,667.6 900.5,669.8 901.8,667.8 903.0,669.6 904.3,668.1 905.5,667.9 906.8,665.8 908.1,664.7 909.3,664.5 910.6,664.2 911.8,665.7 913.1,663.9 914.3,662.8 915.6,662.8 916.9,661.6 918.1,660.2 919.4,658.5 920.6,659.0 921.9,656.2 923.1,656.9 924.4,653.6 925.6,652.7 926.9,655.5 928.2,654.6 929.4,656.1 930.7,658.2 932.0,658.8 933.2,658.3 934.5,659.4 935.7,660.3 937.0,660.7 938.4,658.2" fill="none" stroke="#3d68f2" stroke-width="1.3" stroke-linejoin="round"/>
<rect x="889.3" y="625.5" width="46.1" height="44" fill="#4a6cf7" opacity="0.15"/>
<path d="M885.5 625 h7.6 l-1.8 6 v32.8 l1.8 6 h-7.6 l1.8 -6 v-32.8 z" fill="#3d68f2"/>
<path d="M931.6 625 h7.6 l-1.8 6 v32.8 l1.8 6 h-7.6 l1.8 -6 v-32.8 z" fill="#3d68f2"/>
<text x="9.3" y="689" font-size="14.8" fill="#8a8e99" text-anchor="start" dominant-baseline="central">2016-04</text>
<text x="191" y="689" font-size="14.8" fill="#8a8e99" text-anchor="middle" dominant-baseline="central">2017-10</text>
<text x="377" y="689" font-size="14.8" fill="#8a8e99" text-anchor="middle" dominant-baseline="central">2019-04</text>
<text x="563" y="689" font-size="14.8" fill="#8a8e99" text-anchor="middle" dominant-baseline="central">2020-11</text>
<text x="749" y="689" font-size="14.8" fill="#8a8e99" text-anchor="middle" dominant-baseline="central">2022-05</text>
<text x="938" y="689" font-size="14.8" fill="#8a8e99" text-anchor="end" dominant-baseline="central">2023-11</text>
</svg></body></html>
